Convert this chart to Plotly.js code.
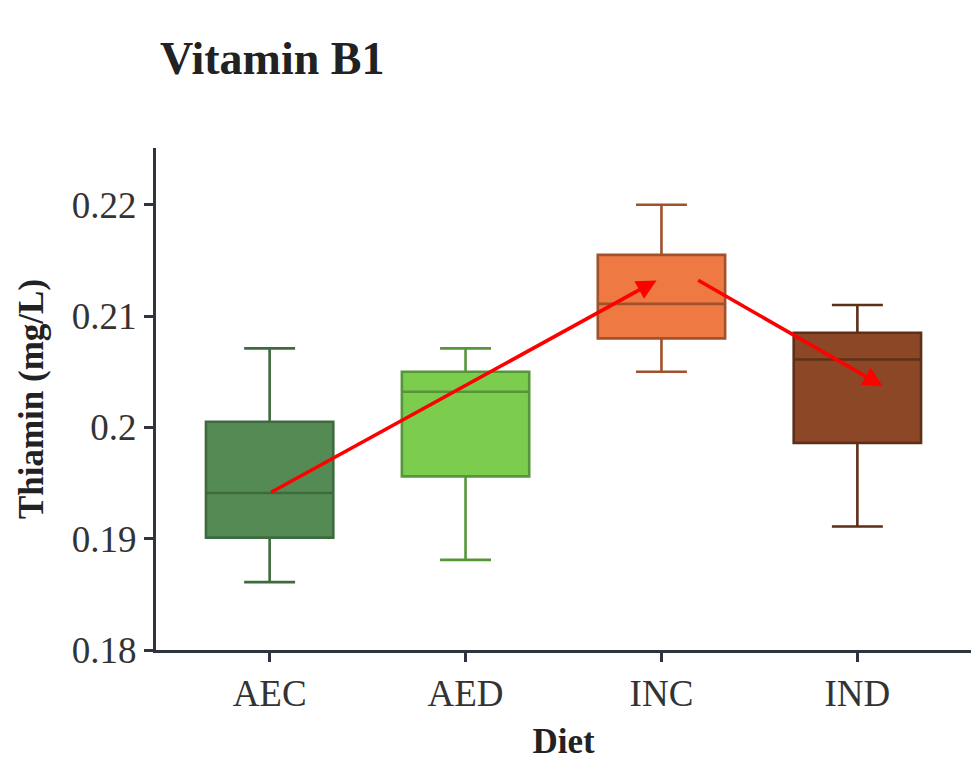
<!DOCTYPE html>
<html>
<head>
<meta charset="utf-8">
<script src="https://cdn.plot.ly/plotly-3.0.1.min.js"></script>
<style>html,body{margin:0;padding:0;background:#fff;}#chart{width:971px;height:761px;}</style>
</head>
<body>
<div id="chart"></div>
<script>
// Data
const diets = ["AEC", "AED", "INC", "IND"];
const lowerWhisker = [0.1861, 0.1881, 0.2050, 0.1911];
const q1Values = [0.1901, 0.1956, 0.2080, 0.1986];
const medianValues = [0.1941, 0.2032, 0.2111, 0.2061];
const q3Values = [0.2005, 0.2050, 0.2155, 0.2085];
const upperWhisker = [0.2071, 0.2071, 0.2200, 0.2110];
const fillColors = ["#548B54", "#7CCD4E", "#EE7942", "#8B4726"];
const lineColors = ["#3E6B3E", "#55963A", "#A0522D", "#5E2F17"];

// Arrow annotations (start -> end) in data units
const arrowStartX = [0, 2.18];
const arrowStartY = [0.1941, 0.2133];
const arrowEndX = [1.975, 3.13];
const arrowEndY = [0.2132, 0.2037];

const serif = "Liberation Serif, Times New Roman, serif";

const traces = diets.map((d, i) => ({
  type: "box",
  name: d,
  x: [d],
  q1: [q1Values[i]],
  median: [medianValues[i]],
  q3: [q3Values[i]],
  lowerfence: [lowerWhisker[i]],
  upperfence: [upperWhisker[i]],
  boxpoints: false,
  width: 0.65,
  whiskerwidth: 0.4,
  fillcolor: fillColors[i],
  line: { color: lineColors[i], width: 2.6 },
  hoverinfo: "skip",
  showlegend: false
}));

const annotations = arrowStartX.map((sx, i) => ({
  x: arrowEndX[i], y: arrowEndY[i],
  ax: sx, ay: arrowStartY[i],
  xref: "x", yref: "y", axref: "x", ayref: "y",
  text: "", showarrow: true,
  arrowhead: 2, arrowsize: 1.1, arrowwidth: 3.6, arrowcolor: "#FF0000"
}));

const layout = {
  width: 971, height: 761,
  paper_bgcolor: "#FFFFFF", plot_bgcolor: "#FFFFFF",
  margin: { l: 156, r: 0, t: 148, b: 111 },
  title: {
    text: "<b>Vitamin B1</b>",
    font: { family: serif, size: 46, color: "#222222" },
    xref: "container", yref: "container",
    x: 160 / 971, xanchor: "left",
    y: 1 - 58 / 761, yanchor: "middle"
  },
  xaxis: {
    type: "category",
    categoryorder: "array", categoryarray: diets,
    range: [-0.58, 3.58],
    showline: true, linecolor: "#2E3440", linewidth: 3,
    ticks: "outside", ticklen: 9, tickwidth: 3, tickcolor: "#2E3440",
    showgrid: false, zeroline: false,
    tickfont: { family: serif, size: 37, color: "#333333" },
    title: { text: "<b>Diet</b>", font: { family: serif, size: 35, color: "#222222" }, standoff: 18 }
  },
  yaxis: {
    range: [0.18, 0.2251],
    tickvals: [0.18, 0.19, 0.2, 0.21, 0.22],
    ticktext: ["0.18", "0.19", "0.2", "0.21", "0.22"],
    showline: true, linecolor: "#2E3440", linewidth: 3,
    ticks: "outside", ticklen: 9, tickwidth: 3, tickcolor: "#2E3440",
    showgrid: false, zeroline: false,
    tickfont: { family: serif, size: 37, color: "#333333" },
    title: { text: "<b>Thiamin (mg/L)</b>", font: { family: serif, size: 35, color: "#222222" }, standoff: 18 }
  },
  annotations: annotations
};

Plotly.newPlot("chart", traces, layout, { displayModeBar: false, staticPlot: true });
</script>
</body>
</html>
